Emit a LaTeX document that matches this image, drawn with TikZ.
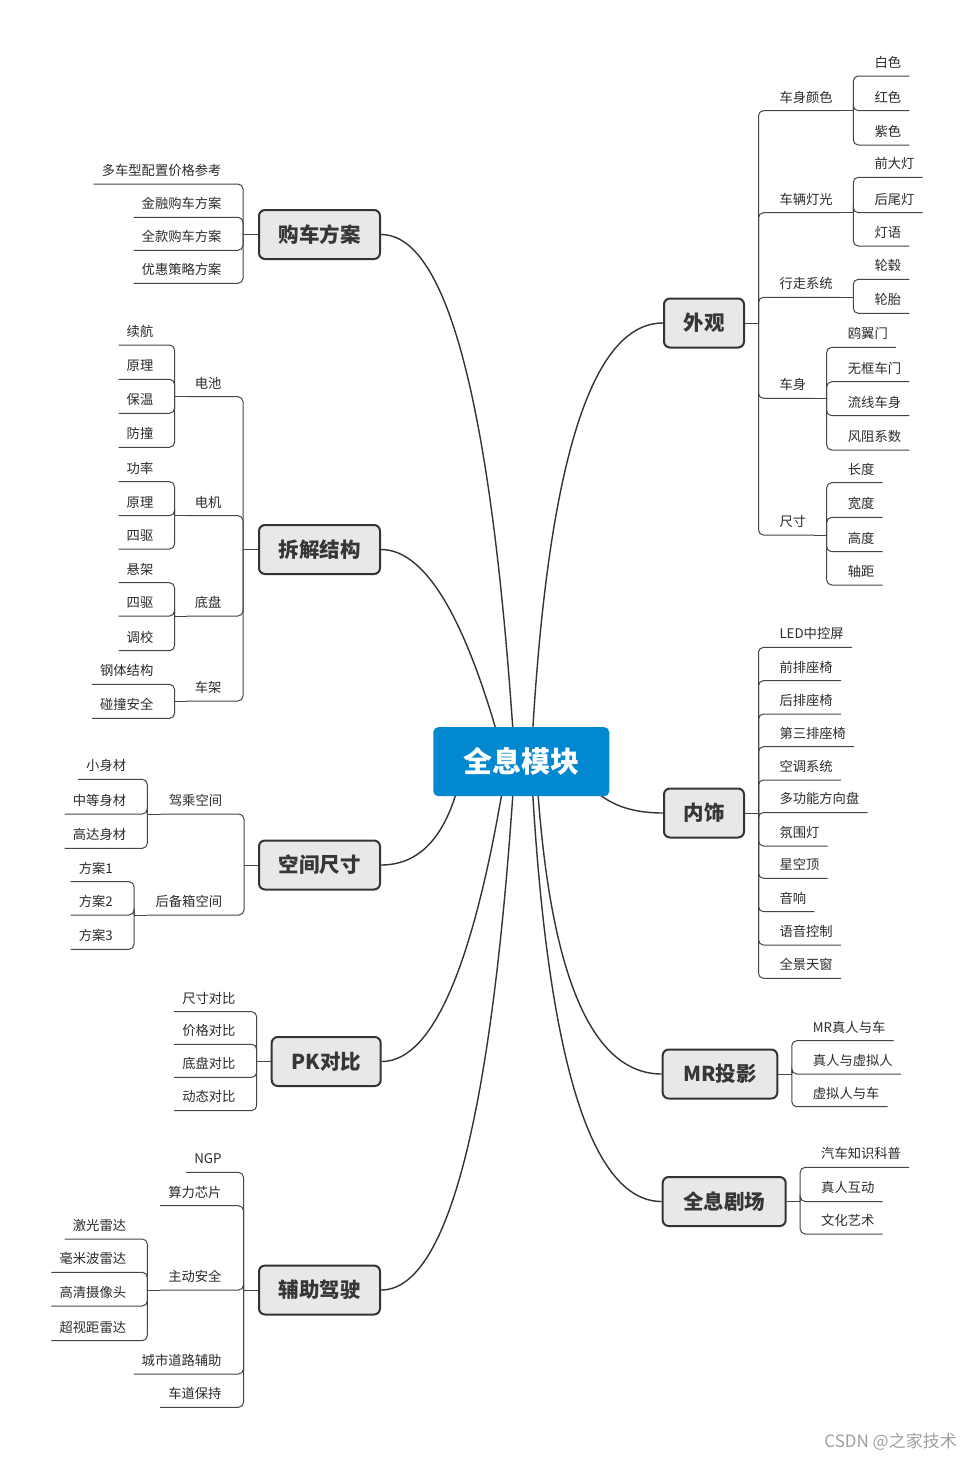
\documentclass[tikz,border=0pt]{standalone}
\usepackage{fontspec}
\newfontfamily\cjk{Noto Sans CJK SC}
\usetikzlibrary{calc}
\definecolor{lnc}{HTML}{333333}
\definecolor{brc}{HTML}{454545}
\definecolor{txc}{HTML}{2B2B2B}
\definecolor{tpc}{HTML}{363636}
\definecolor{topfill}{HTML}{E8E8E8}
\definecolor{cblue}{HTML}{0288D1}
\definecolor{wmc}{HTML}{A0A0A0}
\tikzset{
  leaf/.style={font=\cjk\fontsize{13.3}{16}\selectfont, text=txc, inner xsep=8pt, inner ysep=0pt, text height=12pt, text depth=8.5pt},
  topic/.style={draw=lnc, line width=2pt, fill=topfill, rounded corners=6pt, font=\cjk\bfseries\fontsize{20.5}{24}\selectfont, text=tpc, minimum height=49pt, inner sep=0pt, text height=17.2pt, text depth=1.6pt},
  central/.style={fill=cblue, rounded corners=5pt, font=\cjk\bfseries\fontsize{29}{34}\selectfont, text=white, minimum width=176pt, minimum height=69pt, inner sep=0pt, text height=24.4pt, text depth=2.3pt},
  br/.style={draw=brc, line width=1pt, rounded corners=5pt},
  curve/.style={draw=lnc, line width=1.4pt},
  wmark/.style={font=\cjk\fontsize{17}{19}\selectfont, text=wmc, inner sep=0pt}
}
\newcommand\lleaf[4]{\node[leaf,anchor=south east] (#1) at (#2,#3) {#4};}
\newcommand\rleaf[4]{\node[leaf,anchor=south west] (#1) at (#2,#3) {#4};}
\newcommand\lconn[2]{\draw[br] (#1) |- (#2.south east) -- (#2.south west);}
\newcommand\rconn[2]{\draw[br] (#1) |- (#2.south west) -- (#2.south east);}
\begin{document}
\begin{tikzpicture}[x=1pt,y=-1pt]
\fill[white] (0,0) rectangle (974,1460);
\useasboundingbox (0,0) rectangle (974,1460);

% ---------- main topics ----------
\node[topic, minimum width=121pt] (buy) at (319.5,234.5) {购车方案};
\node[topic, minimum width=121pt] (dis) at (319.5,549.5) {拆解结构};
\node[topic, minimum width=121pt] (spc) at (319.5,865) {空间尺寸};
\node[topic, minimum width=109pt] (pk) at (326.2,1061.5) {PK对比};
\node[topic, minimum width=121pt] (adas) at (319.5,1290) {辅助驾驶};
\node[topic, minimum width=80pt] (wg) at (704,323) {外观};
\node[topic, minimum width=80pt] (ns) at (704,813) {内饰};
\node[topic, minimum width=114.6pt] (mr) at (720,1074) {MR投影};
\node[topic, minimum width=123pt] (th) at (724.2,1201.5) {全息剧场};

% ---------- curve ends (behind central) ----------
\coordinate (k1) at (515,762);
\coordinate (k2) at (505,762);
\coordinate (k3) at (463.6,762);
\coordinate (k4) at (507,762);
\coordinate (k5) at (515,762);
\coordinate (k6) at (531,762);
\coordinate (k7) at (577,762);
\coordinate (k8) at (536,762);
\coordinate (k9) at (531,762);
\draw[curve] (buy.east) .. controls (448.3,234.5) and (493,410) .. (k1);
\draw[curve] (dis.east) .. controls (426,549.5) and (467.4,620) .. (k2);
\draw[curve] (spc.east) .. controls (423.5,865) and (451.1,830.7) .. (k3);
\draw[curve] (pk.east) .. controls (433.7,1061.5) and (475.7,961.3) .. (k4);
\draw[curve] (adas.east) .. controls (448.3,1290) and (493,1114) .. (k5);
\draw[curve] (wg.west) .. controls (589.7,323) and (545.7,469.3) .. (k6);
\draw[curve] (ns.west) .. controls (618.3,813) and (589.7,796) .. (k7);
\draw[curve] (mr.west) .. controls (589.7,1074) and (547.3,970) .. (k8);
\draw[curve] (th.west) .. controls (589.7,1201.5) and (545.7,1054.7) .. (k9);

\node[central] (c) at (521.3,761.7) {全息模块};

% ---------- 购车方案 ----------
\coordinate (buyJ) at ([xshift=-15pt]buy.west);
\lleaf{b1}{229.7}{184}{多车型配置价格参考}
\lleaf{b2}{229.7}{217.3}{金融购车方案}
\lleaf{b3}{229.7}{250.3}{全款购车方案}
\lleaf{b4}{229.7}{283.3}{优惠策略方案}
\draw[br] (buy.west) -- (buyJ);
\foreach \n in {b1,b2,b3,b4} {\lconn{buyJ}{\n}}

% ---------- 拆解结构 ----------
\coordinate (disJ) at ([xshift=-15pt]dis.west);
\draw[br] (dis.west) -- (disJ);
\lleaf{d1}{229.7}{396.7}{电池}
\lleaf{d2}{229.7}{515.7}{电机}
\lleaf{d3}{229.7}{616}{底盘}
\lleaf{d4}{229.7}{701}{车架}
\coordinate (d1J) at (174.5,396.7);
\coordinate (d2J) at (174.5,515.7);
\coordinate (d3J) at (174.5,616);
\coordinate (d4J) at (174.5,701);
\foreach \n in {d1,d2,d3,d4} {\lconn{disJ}{\n}\draw[br] (\n.south west) -- (\n J);}
\lleaf{d11}{161.5}{345}{续航}
\lleaf{d12}{161.5}{379.3}{原理}
\lleaf{d13}{161.5}{413.3}{保温}
\lleaf{d14}{161.5}{447.3}{防撞}
\foreach \n in {d11,d12,d13,d14} {\lconn{d1J}{\n}}
\lleaf{d21}{161.5}{481.7}{功率}
\lleaf{d22}{161.5}{515.7}{原理}
\lleaf{d23}{161.5}{549}{四驱}
\foreach \n in {d21,d22,d23} {\lconn{d2J}{\n}}
\lleaf{d31}{161.5}{582.7}{悬架}
\lleaf{d32}{161.5}{616}{四驱}
\lleaf{d33}{161.5}{650.7}{调校}
\foreach \n in {d31,d32,d33} {\lconn{d3J}{\n}}
\lleaf{d41}{161.5}{684.3}{钢体结构}
\lleaf{d42}{161.5}{718.3}{碰撞安全}
\foreach \n in {d41,d42} {\lconn{d4J}{\n}}

% ---------- 空间尺寸 ----------
\coordinate (spcJ) at ([xshift=-14pt]spc.west);
\draw[br] (spc.west) -- (spcJ);
\lleaf{s1}{230.3}{814}{驾乘空间}
\lleaf{s2}{230.3}{915}{后备箱空间}
\coordinate (s1J) at (147.3,814);
\coordinate (s2J) at (134,915);
\foreach \n in {s1,s2} {\lconn{spcJ}{\n}\draw[br] (\n.south west) -- (\n J);}
\lleaf{s11}{134.3}{779.3}{小身材}
\lleaf{s12}{134.3}{814}{中等身材}
\lleaf{s13}{134.3}{848.3}{高达身材}
\foreach \n in {s11,s12,s13} {\lconn{s1J}{\n}}
\lleaf{s21}{121}{881.7}{方案1}
\lleaf{s22}{121}{915}{方案2}
\lleaf{s23}{121}{949.3}{方案3}
\foreach \n in {s21,s22,s23} {\lconn{s2J}{\n}}

% ---------- PK对比 ----------
\coordinate (pkJ) at ([xshift=-14pt]pk.west);
\draw[br] (pk.west) -- (pkJ);
\lleaf{p1}{243.7}{1011.7}{尺寸对比}
\lleaf{p2}{243.7}{1044.3}{价格对比}
\lleaf{p3}{243.7}{1077.3}{底盘对比}
\lleaf{p4}{243.7}{1110.5}{动态对比}
\foreach \n in {p1,p2,p3,p4} {\lconn{pkJ}{\n}}

% ---------- 辅助驾驶 ----------
\coordinate (adasJ) at ([xshift=-14.5pt]adas.west);
\draw[br] (adas.west) -- (adasJ);
\lleaf{a1}{229.7}{1172.3}{NGP}
\lleaf{a2}{229.7}{1205.7}{算力芯片}
\lleaf{a3}{229.7}{1290}{主动安全}
\lleaf{a4}{229.7}{1374}{城市道路辅助}
\lleaf{a5}{229.7}{1407.3}{车道保持}
\foreach \n in {a1,a2,a3,a4,a5} {\lconn{adasJ}{\n}}
\coordinate (a3J) at (147.3,1290);
\draw[br] (a3.south west) -- (a3J);
\lleaf{a31}{134.3}{1239}{激光雷达}
\lleaf{a32}{134.3}{1272.3}{毫米波雷达}
\lleaf{a33}{134.3}{1306}{高清摄像头}
\lleaf{a34}{134.3}{1340.7}{超视距雷达}
\foreach \n in {a31,a32,a33,a34} {\lconn{a3J}{\n}}

% ---------- 外观 ----------
\coordinate (wgJ) at ([xshift=13.5pt]wg.east);
\draw[br] (wg.east) -- (wgJ);
\rleaf{w1}{771.3}{110.7}{车身颜色}
\rleaf{w2}{771.3}{212.7}{车辆灯光}
\rleaf{w3}{771.3}{297.3}{行走系统}
\rleaf{w4}{771.3}{398.3}{车身}
\rleaf{w5}{771.3}{535}{尺寸}
\coordinate (w1J) at (853.3,110.7);
\coordinate (w2J) at (853.3,212.7);
\coordinate (w3J) at (853.3,297.3);
\coordinate (w4J) at (826.7,398.3);
\coordinate (w5J) at (826.7,535);
\foreach \n in {w1,w2,w3,w4,w5} {\rconn{wgJ}{\n}\draw[br] (\n.south east) -- (\n J);}
\rleaf{w11}{866.3}{76}{白色}
\rleaf{w12}{866.3}{110.7}{红色}
\rleaf{w13}{866.3}{145}{紫色}
\foreach \n in {w11,w12,w13} {\rconn{w1J}{\n}}
\rleaf{w21}{866.3}{177.3}{前大灯}
\rleaf{w22}{866.3}{212.7}{后尾灯}
\rleaf{w23}{866.3}{246}{灯语}
\foreach \n in {w21,w22,w23} {\rconn{w2J}{\n}}
\rleaf{w31}{866.3}{279.3}{轮毂}
\rleaf{w32}{866.3}{313.3}{轮胎}
\foreach \n in {w31,w32} {\rconn{w3J}{\n}}
\rleaf{w41}{839.7}{347.3}{鸥翼门}
\rleaf{w42}{839.7}{381.7}{无框车门}
\rleaf{w43}{839.7}{415.7}{流线车身}
\rleaf{w44}{839.7}{450}{风阻系数}
\foreach \n in {w41,w42,w43,w44} {\rconn{w4J}{\n}}
\rleaf{w51}{839.7}{482.7}{长度}
\rleaf{w52}{839.7}{517.3}{宽度}
\rleaf{w53}{839.7}{551.7}{高度}
\rleaf{w54}{839.7}{585}{轴距}
\foreach \n in {w51,w52,w53,w54} {\rconn{w5J}{\n}}

% ---------- 内饰 ----------
\coordinate (nsJ) at ([xshift=13.5pt]ns.east);
\draw[br] (ns.east) -- (nsJ);
\rleaf{n1}{771.3}{647.3}{LED中控屏}
\rleaf{n2}{771.3}{680.7}{前排座椅}
\rleaf{n3}{771.3}{714}{后排座椅}
\rleaf{n4}{771.3}{746.7}{第三排座椅}
\rleaf{n5}{771.3}{780}{空调系统}
\rleaf{n6}{771.3}{812.5}{多功能方向盘}
\rleaf{n7}{771.3}{846}{氛围灯}
\rleaf{n8}{771.3}{878.3}{星空顶}
\rleaf{n9}{771.3}{911.7}{音响}
\rleaf{n10}{771.3}{945}{语音控制}
\rleaf{n11}{771.3}{978.3}{全景天窗}
\foreach \n in {n1,n2,n3,n4,n5,n6,n7,n8,n9,n10,n11} {\rconn{nsJ}{\n}}

% ---------- MR投影 ----------
\coordinate (mrJ) at ([xshift=13.5pt]mr.east);
\draw[br] (mr.east) -- (mrJ);
\rleaf{m1}{804.7}{1040.7}{MR真人与车}
\rleaf{m2}{804.7}{1074}{真人与虚拟人}
\rleaf{m3}{804.7}{1106.7}{虚拟人与车}
\foreach \n in {m1,m2,m3} {\rconn{mrJ}{\n}}

% ---------- 全息剧场 ----------
\coordinate (thJ) at ([xshift=13.5pt]th.east);
\draw[br] (th.east) -- (thJ);
\rleaf{t1}{813}{1167.3}{汽车知识科普}
\rleaf{t2}{813}{1201.5}{真人互动}
\rleaf{t3}{813}{1234}{文化艺术}
\foreach \n in {t1,t2,t3} {\rconn{thJ}{\n}}

% ---------- watermark ----------
\node[wmark, anchor=east] (wm) at (957,1442) {CSDN @之家技术};
\end{tikzpicture}
\end{document}
